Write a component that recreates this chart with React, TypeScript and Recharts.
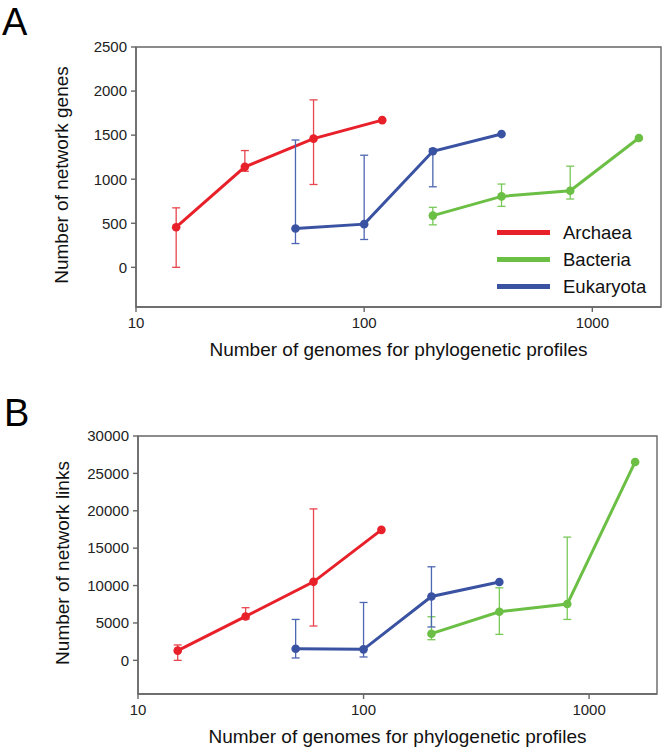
import React from 'react';
import { ComposedChart, Line, XAxis, YAxis, ErrorBar, ReferenceArea, Label } from 'recharts';

const FONT = '"Liberation Sans", Arial, Helvetica, sans-serif';

// Number of genomes used (x values)
const X_ARCHAEA = [15, 30, 60, 120];
const X_EUKARYOTA = [50, 100, 200, 400];
const X_BACTERIA = [200, 400, 800, 1600];

// Panel A: number of network genes
const GENES_ARCHAEA = [455, 1140, 1460, 1670];
const GENES_ARCHAEA_LOW = [0, 1090, 940, null];
const GENES_ARCHAEA_HIGH = [675, 1325, 1900, null];
const GENES_BACTERIA = [587, 805, 869, 1467];
const GENES_BACTERIA_LOW = [482, 692, 775, null];
const GENES_BACTERIA_HIGH = [681, 945, 1148, null];
const GENES_EUKARYOTA = [440, 490, 1317, 1512];
const GENES_EUKARYOTA_LOW = [270, 316, 914, null];
const GENES_EUKARYOTA_HIGH = [1445, 1272, 1343, null];

// Panel B: number of network links
const LINKS_ARCHAEA = [1300, 5870, 10500, 17450];
const LINKS_ARCHAEA_LOW = [0, 5530, 4590, null];
const LINKS_ARCHAEA_HIGH = [2060, 7040, 20250, null];
const LINKS_BACTERIA = [3565, 6500, 7530, 26530];
const LINKS_BACTERIA_LOW = [2760, 3470, 5470, null];
const LINKS_BACTERIA_HIGH = [5830, 9700, 16480, null];
const LINKS_EUKARYOTA = [1560, 1470, 8545, 10470];
const LINKS_EUKARYOTA_LOW = [320, 450, 4460, null];
const LINKS_EUKARYOTA_HIGH = [5470, 7740, 12510, null];

const X_TICKS = [10, 100, 1000];
const GENES_TICKS = [0, 500, 1000, 1500, 2000, 2500];
const LINKS_TICKS = [0, 5000, 10000, 15000, 20000, 25000, 30000];

const SERIES_NAMES = ['Archaea', 'Bacteria', 'Eukaryota'];
const LINE_COLORS = ['#e8202a', '#6cbf45', '#3a52a2'];
const ERR_COLORS = ['#e6464d', '#78c958', '#4d66b2'];

type Row = { x: number; y: number; err: [number, number] | null };

function buildRows(xs: number[], ys: number[], lows: (number | null)[], highs: (number | null)[]): Row[] {
  return xs.map((x, i) => {
    const lo = lows[i];
    const hi = highs[i];
    return {
      x,
      y: ys[i],
      err: lo == null || hi == null ? null : [ys[i] - lo, hi - ys[i]],
    };
  });
}

const genesSeries = [
  buildRows(X_ARCHAEA, GENES_ARCHAEA, GENES_ARCHAEA_LOW, GENES_ARCHAEA_HIGH),
  buildRows(X_BACTERIA, GENES_BACTERIA, GENES_BACTERIA_LOW, GENES_BACTERIA_HIGH),
  buildRows(X_EUKARYOTA, GENES_EUKARYOTA, GENES_EUKARYOTA_LOW, GENES_EUKARYOTA_HIGH),
];
const linksSeries = [
  buildRows(X_ARCHAEA, LINKS_ARCHAEA, LINKS_ARCHAEA_LOW, LINKS_ARCHAEA_HIGH),
  buildRows(X_BACTERIA, LINKS_BACTERIA, LINKS_BACTERIA_LOW, LINKS_BACTERIA_HIGH),
  buildRows(X_EUKARYOTA, LINKS_EUKARYOTA, LINKS_EUKARYOTA_LOW, LINKS_EUKARYOTA_HIGH),
];

type PanelProps = {
  top: number;
  height: number;
  margin: { top: number; right: number; bottom: number; left: number };
  yDomain: [number, number];
  yTicks: number[];
  yTitle: string;
  yTitleX: number;
  series: Row[][];
};

function Panel({ top, height, margin, yDomain, yTicks, yTitle, yTitleX, series }: PanelProps) {
  const xTitle = (props: any) => {
    const vb = props.viewBox || {};
    const cx = (vb.x ?? 0) + (vb.width ?? 0) / 2;
    const y = (vb.y ?? 0) + 49;
    return (
      <text x={cx} y={y} textAnchor="middle" fontSize={19} fontFamily={FONT} fill="#111">
        Number of genomes for phylogenetic profiles
      </text>
    );
  };
  const yTitleFn = (props: any) => {
    const vb = props.viewBox || {};
    const cy = (vb.y ?? 0) + (vb.height ?? 0) / 2 - 2;
    return (
      <text
        x={yTitleX}
        y={cy}
        transform={`rotate(-90 ${yTitleX} ${cy})`}
        textAnchor="middle"
        dominantBaseline="central"
        fontSize={19}
        fontFamily={FONT}
        fill="#111"
      >
        {yTitle}
      </text>
    );
  };
  return (
    <div style={{ position: 'absolute', left: 0, top }}>
      <ComposedChart width={666} height={height} margin={margin}>
        <XAxis
          dataKey="x"
          type="number"
          scale="log"
          domain={[10, 2000]}
          ticks={X_TICKS}
          allowDataOverflow
          tickSize={5}
          tickMargin={5}
          height={40}
          stroke="#666"
          strokeWidth={1.4}
          tick={{ fill: '#222', fontSize: 15, fontFamily: FONT }}
          tickFormatter={(v: number) => String(v)}
          label={<Label content={xTitle} />}
        />
        <YAxis
          dataKey="y"
          type="number"
          domain={yDomain}
          ticks={yTicks}
          allowDataOverflow
          tickSize={5}
          tickMargin={4}
          width={60}
          stroke="#666"
          strokeWidth={1.4}
          tick={{ fill: '#222', fontSize: 15, fontFamily: FONT }}
          label={<Label content={yTitleFn} />}
        />
        <ReferenceArea
          x1={10}
          x2={2000}
          y1={yDomain[0]}
          y2={yDomain[1]}
          fill="none"
          fillOpacity={0}
          stroke="#666"
          strokeWidth={1.4}
          ifOverflow="visible"
        />
        {series.map((rows, i) => (
          <Line
            key={SERIES_NAMES[i]}
            name={SERIES_NAMES[i]}
            data={rows}
            dataKey="y"
            type="linear"
            stroke={LINE_COLORS[i]}
            strokeWidth={3}
            dot={{ r: 4.3, fill: LINE_COLORS[i], stroke: LINE_COLORS[i], strokeWidth: 0 }}
            activeDot={false}
            isAnimationActive={false}
          >
            <ErrorBar dataKey="err" direction="y" width={4} stroke={ERR_COLORS[i]} strokeWidth={1.3} />
          </Line>
        ))}
      </ComposedChart>
    </div>
  );
}

function LegendBox() {
  return (
    <div style={{ position: 'absolute', left: 497, top: 219, fontFamily: FONT }}>
      {SERIES_NAMES.map((name, i) => (
        <div key={name} style={{ display: 'flex', alignItems: 'center', height: 27 }}>
          <span style={{ display: 'inline-block', width: 53, height: 5, background: LINE_COLORS[i] }} />
          <span style={{ marginLeft: 13, fontSize: 18.5, color: '#111', lineHeight: '27px' }}>{name}</span>
        </div>
      ))}
    </div>
  );
}

export default function App() {
  return (
    <div
      style={{
        position: 'absolute',
        left: 0,
        top: 0,
        width: 666,
        height: 755,
        background: '#fff',
        overflow: 'hidden',
        fontFamily: FONT,
      }}
    >
      <Panel
        top={0}
        height={372}
        margin={{ top: 47, right: 5, bottom: 25, left: 76 }}
        yDomain={[-450, 2500]}
        yTicks={GENES_TICKS}
        yTitle="Number of network genes"
        yTitleX={61}
        series={genesSeries}
      />
      <Panel
        top={370}
        height={385}
        margin={{ top: 66, right: 9, bottom: 21, left: 78 }}
        yDomain={[-4500, 30000]}
        yTicks={LINKS_TICKS}
        yTitle="Number of network links"
        yTitleX={62}
        series={linksSeries}
      />
      <LegendBox />
      <div style={{ position: 'absolute', left: 2, top: 1, fontSize: 38, color: '#000', lineHeight: 'normal' }}>A</div>
      <div style={{ position: 'absolute', left: 4, top: 392, fontSize: 38, color: '#000', lineHeight: 'normal' }}>B</div>
    </div>
  );
}
